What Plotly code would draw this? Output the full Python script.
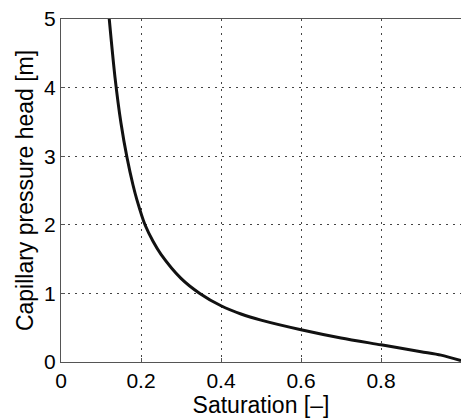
import plotly.graph_objects as go

saturation = [0.12, 0.135, 0.15, 0.165, 0.18, 0.19, 0.21, 0.23, 0.25, 0.30, 0.347, 0.40, 0.45, 0.50, 0.60, 0.70, 0.80, 0.90, 0.95, 1.0]
head = [5.04, 4.15, 3.48, 2.98, 2.58, 2.36, 2.0, 1.76, 1.57, 1.22, 1.0, 0.82, 0.70, 0.61, 0.47, 0.35, 0.25, 0.15, 0.10, 0.02]

x_ticks = [0, 0.2, 0.4, 0.6, 0.8, 1]
x_ticklabels = ["0", "0.2", "0.4", "0.6", "0.8", "1"]
y_ticks = [0, 1, 2, 3, 4, 5]
y_ticklabels = ["0", "1", "2", "3", "4", "5"]

family = "Liberation Sans, Arial, Helvetica, sans-serif"
tick_font = dict(family=family, size=21, color="black")
title_font = dict(family=family, size=23, color="black")

fig = go.Figure()
fig.add_trace(go.Scatter(
    x=saturation, y=head, mode="lines",
    line=dict(color="#111111", width=3, shape="spline", smoothing=0.8),
    showlegend=False, hoverinfo="skip",
))

axis_common = dict(
    showline=True, linecolor="#555555", linewidth=1, mirror=True,
    showgrid=True, gridcolor="#444444", gridwidth=1, griddash="2px,5px",
    zeroline=False, ticks="inside", ticklen=4, tickcolor="#555555",
    tickfont=tick_font, automargin=False,
)

fig.update_layout(
    width=461, height=420,
    margin=dict(l=61, r=0, t=19, b=58),
    paper_bgcolor="white", plot_bgcolor="white",
    font=tick_font,
    xaxis=dict(range=[0, 1], tickvals=x_ticks, ticktext=x_ticklabels,
               title=dict(text="Saturation [–]", font=title_font, standoff=2), **axis_common),
    yaxis=dict(range=[0, 5], tickvals=y_ticks, ticktext=y_ticklabels,
               title=dict(text="Capillary pressure head [m]", font=title_font, standoff=4), **axis_common),
)

fig.write_html("out.html")
